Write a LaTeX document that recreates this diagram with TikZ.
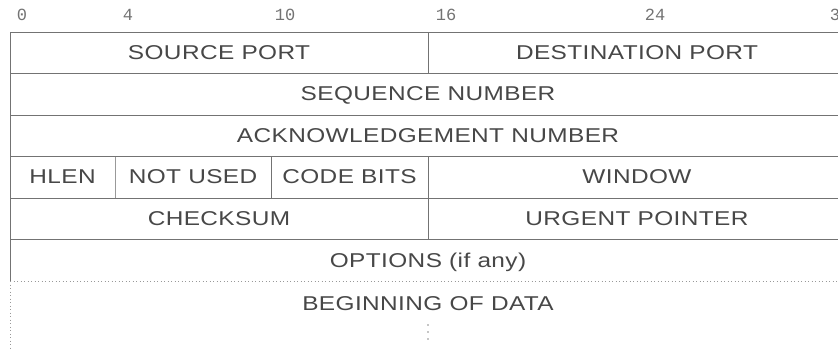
\documentclass[tikz,border=0pt]{standalone}
\usepackage{fontspec}
\setmainfont{Liberation Sans}[FakeStretch=1.22,LetterSpace=2]
\newfontfamily\bitfont{Liberation Mono}
\begin{document}
\begin{tikzpicture}[x=1pt,y=-1pt,
  rule/.style={draw=black!55,line width=0.9pt},
  faintrule/.style={draw=black!40,line width=0.8pt,dash pattern=on 1pt off 2.5pt},
  field/.style={anchor=base,inner sep=0pt,text=black!72,
    font=\fontsize{20}{24}\selectfont},
  bitno/.style={anchor=base,inner sep=0pt,text=black!55,
    font=\bitfont\fontsize{17}{20}\selectfont}]
\useasboundingbox (0,0) rectangle (838,351);

% row boundaries; bit 0 at x=10, bit 16 at x=428, bit 32 at x=846
\foreach \n/\y in {r0/32,r1/73.5,r2/115,r3/156.5,r4/198,r5/239.5,r6/281}{
  \coordinate (\n L) at (10,\y);
  \coordinate (\n R) at (846,\y);
  \coordinate (\n M) at (428,\y);
}
% bits 4 and 10 in the header-length row
\coordinate (r3a) at (115,156.5);  \coordinate (r3b) at (271,156.5);
\coordinate (r4a) at (115,198);    \coordinate (r4b) at (271,198);
\coordinate (bottomL) at (10,349);

% bit numbers
\node[bitno] (b0)  at (22,20)  {0};
\node[bitno] (b4)  at (128,20) {4};
\node[bitno] (b10) at (285,20) {10};
\node[bitno] (b16) at (446,20) {16};
\node[bitno] (b24) at (655,20) {24};
\node[bitno] (b32) at (840,20) {32};

% horizontal rules
\foreach \n in {r0,r1,r2,r3,r4,r5}{\draw[rule] (\n L) -- (\n R);}
\draw[faintrule] (r6L) -- (r6R);

% left edge, fading out below the options row
\draw[rule] (r0L) -- (r6L);
\draw[faintrule] (r6L) -- (bottomL);

% vertical field dividers
\draw[rule] (r0M) -- (r1M);
\draw[rule] (r3M) -- (r5M);
\draw[rule,draw=black!40] (r3a) -- (r4a);
\draw[rule] (r3b) -- (r4b);

% field names
\node[field] (sport) at (219,59)    {SOURCE PORT};
\node[field] (dport) at (637,59)    {DESTINATION PORT};
\node[field] (seq)   at (428,100.5) {SEQUENCE NUMBER};
\node[field] (ack)   at (428,142)   {ACKNOWLEDGEMENT NUMBER};
\node[field] (hlen)  at (62.5,183.5){HLEN};
\node[field] (nused) at (193,183.5) {NOT USED};
\node[field] (code)  at (349.5,183.5){CODE BITS};
\node[field] (win)   at (637,183.5) {WINDOW};
\node[field] (csum)  at (219,225)   {CHECKSUM};
\node[field] (urg)   at (637,225)   {URGENT POINTER};
\node[field] (opt)   at (428,267)   {OPTIONS (if any)};
\node[field] (data)  at (428,310)   {BEGINNING OF DATA};

% continuation dots
\foreach \y in {325,332,339}{\fill[black!45] (428,\y) circle (0.9);}
\end{tikzpicture}
\end{document}
